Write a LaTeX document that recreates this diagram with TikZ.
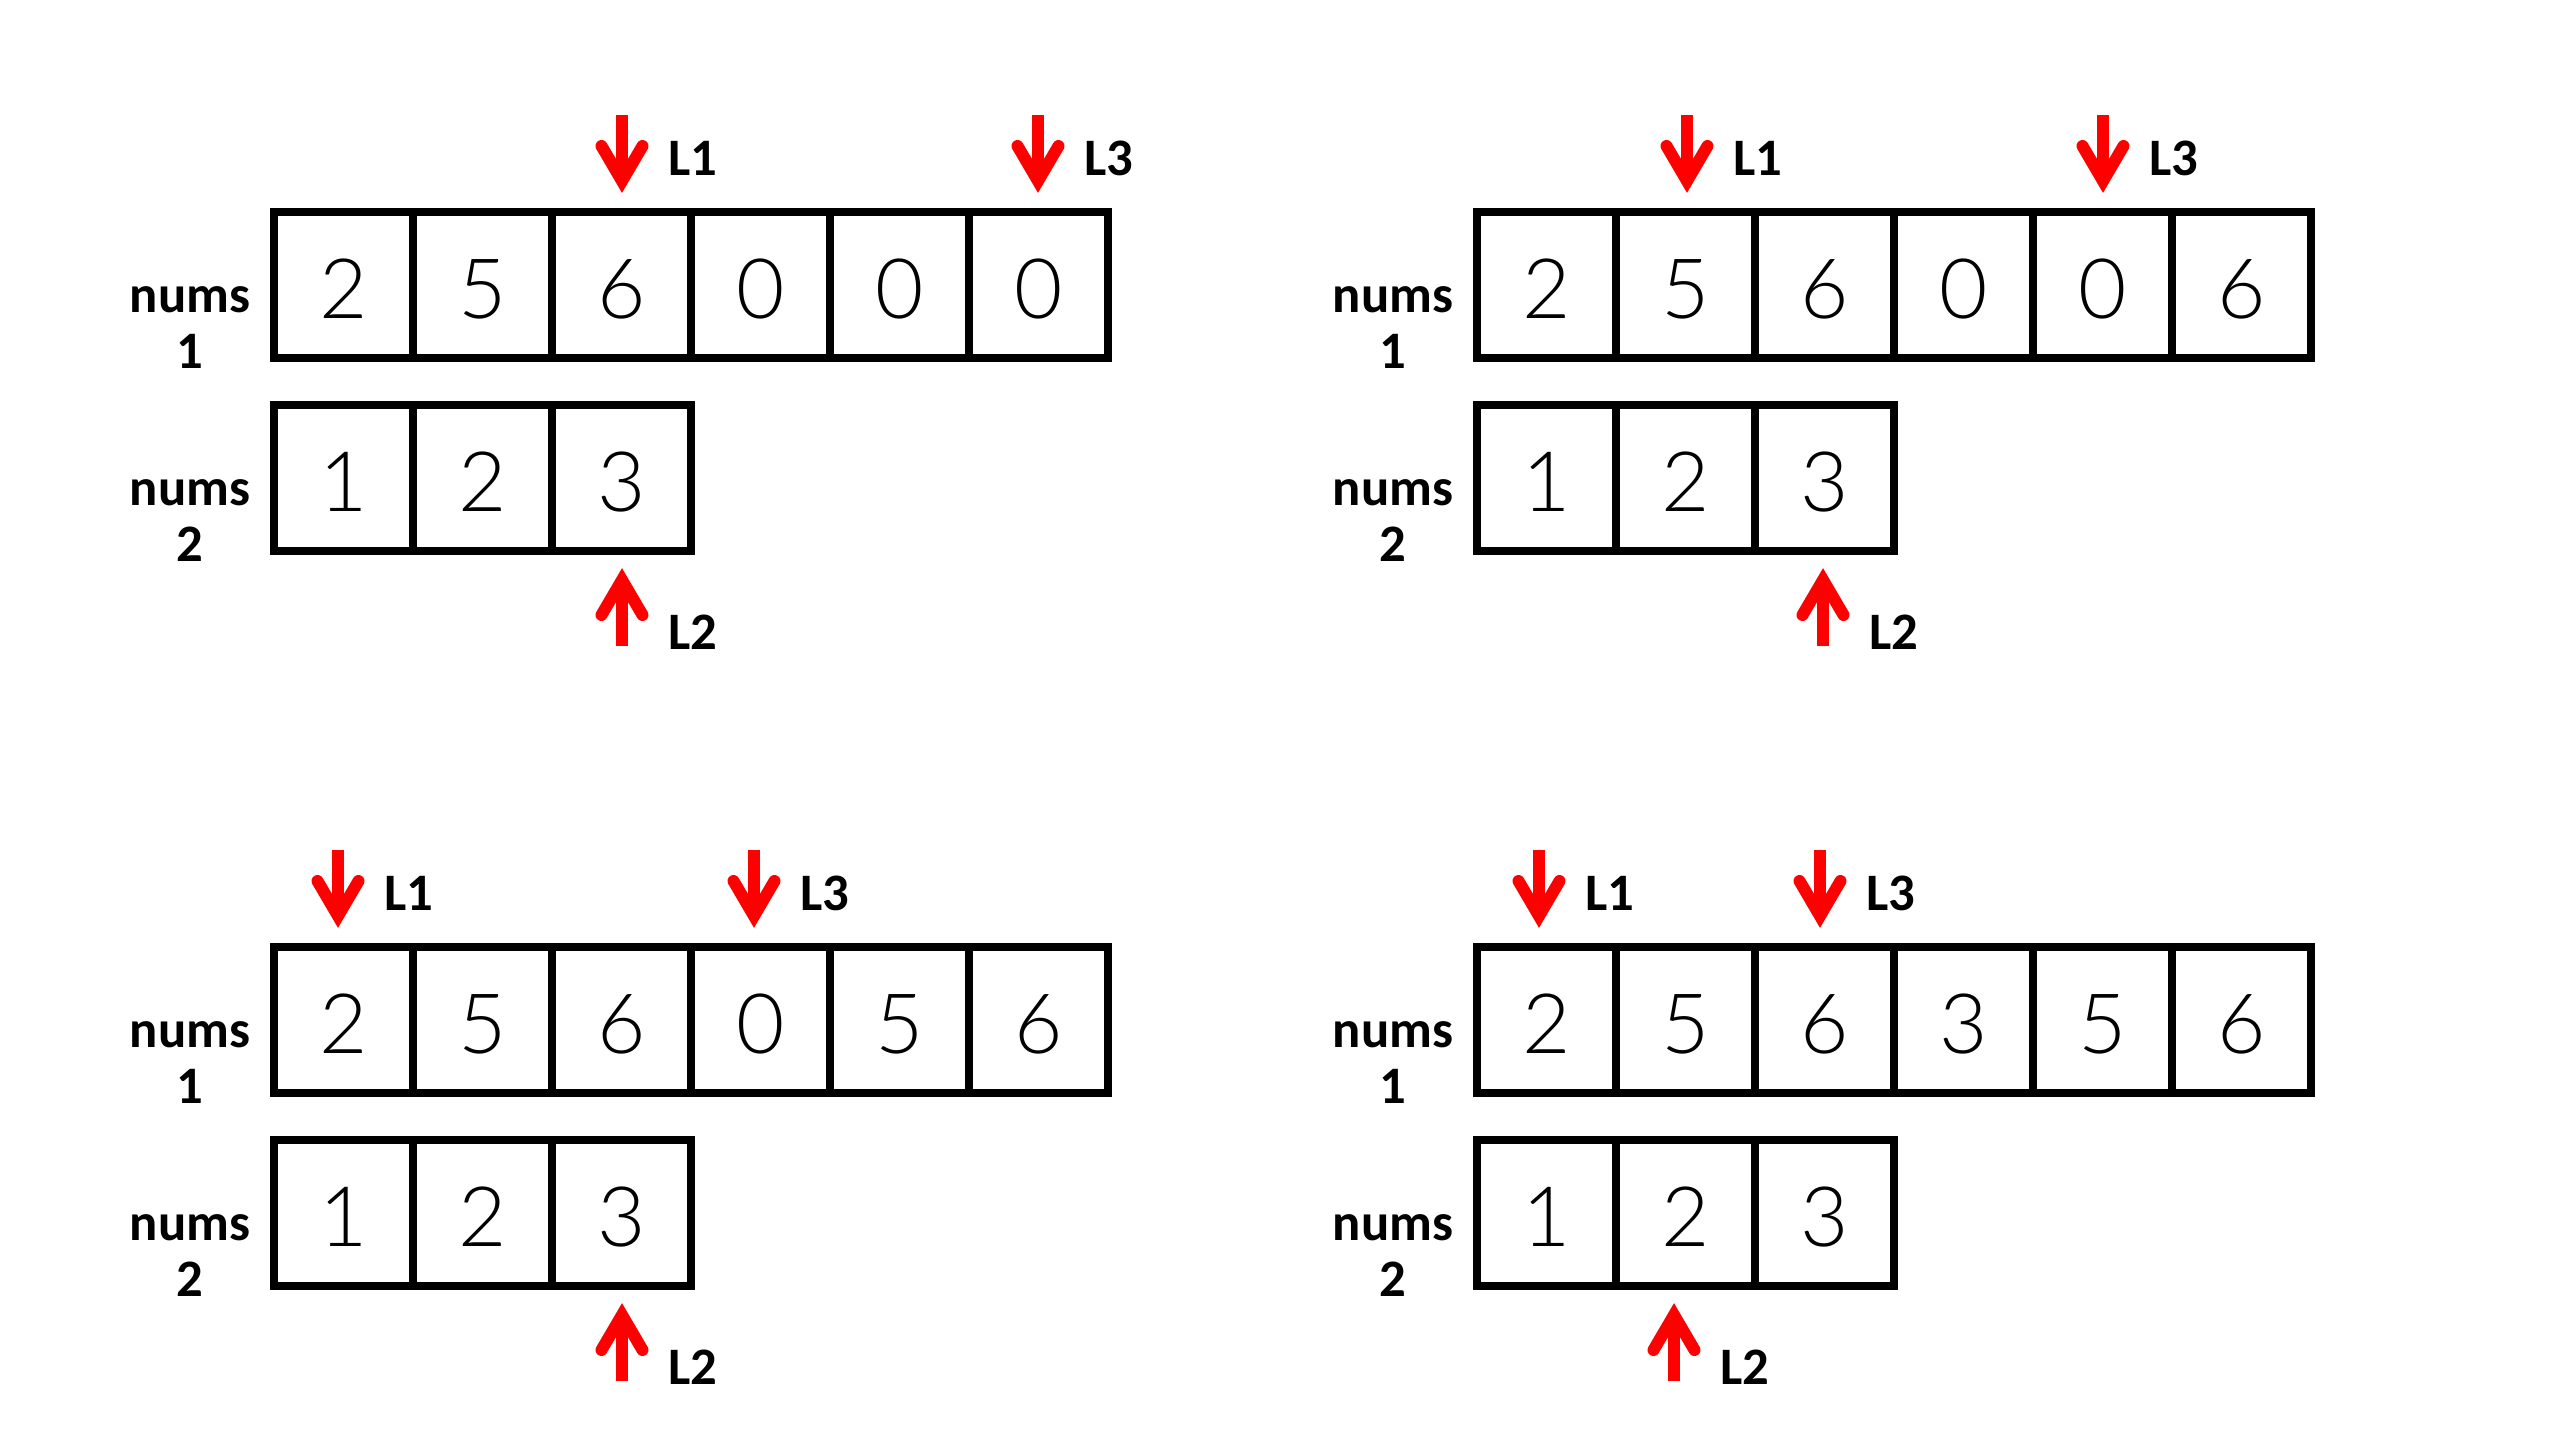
\documentclass[tikz,border=0pt]{standalone}
\usepackage{fontspec}
\usetikzlibrary{calc}
\newfontfamily\digitfont{Lato Light}
\newfontfamily\lblfont{Carlito}
\tikzset{
  cell/.style={draw, line width=2.4pt, minimum width=41.7pt, minimum height=43.8pt,
    inner sep=0pt, font=\digitfont\fontsize{25}{30}\selectfont, text height=19.8pt, text depth=0pt},
  lbl/.style={font=\lblfont\bfseries\fontsize{15.8}{18}\selectfont, anchor=base, inner sep=0pt},
  ptrlbl/.style={lbl, anchor=base west},
  shaftline/.style={draw=red, line width=3.6pt},
  headline/.style={draw=red, line width=3.6pt, line cap=round, line join=miter},
}
% panel: id, x0 (left), y0 (top of nums1), nums1 values, nums2 values
\newcommand\mypanel[5]{%
  \foreach \v [count=\i from 0] in {#4}
    \node[cell] (#1a\i) at ({#2+139*\i+69.5},{#3+73}) {\v};
  \foreach \v [count=\i from 0] in {#5}
    \node[cell] (#1b\i) at ({#2+139*\i+69.5},{#3+266}) {\v};
  \node[lbl] (#1n1) at ({#2-84},{#3+100}) {nums};
  \node[lbl] (#1k1) at ({#2-84},{#3+156}) {1};
  \node[lbl] (#1n2) at ({#2-84},{#3+293}) {nums};
  \node[lbl] (#1k2) at ({#2-84},{#3+349}) {2};
}
% down pointer: name, x, tip y, label
\newcommand\dptr[4]{%
  \coordinate (#1) at (#2,#3);
  \coordinate (#1s) at (#2,{#3-78});
  \draw[shaftline] (#1s) -- ($(#1)+(0,-20)$);
  \draw[headline] ($(#1)+(-20.5,-47)$) -- ($(#1)+(0,-12)$) -- ($(#1)+(20.5,-47)$);
  \node[ptrlbl] (#1l) at ({#2+46},{#3-18}) {#4};
}
% up pointer
\newcommand\uptr[4]{%
  \coordinate (#1) at (#2,#3);
  \coordinate (#1s) at (#2,{#3+78});
  \draw[shaftline] (#1s) -- ($(#1)+(0,20)$);
  \draw[headline] ($(#1)+(-20.5,47)$) -- ($(#1)+(0,12)$) -- ($(#1)+(20.5,47)$);
  \node[ptrlbl] (#1l) at ({#2+46},{#3+81}) {#4};
}
\begin{document}
\begin{tikzpicture}[x=0.3pt, y=-0.3pt]
  \useasboundingbox[fill=white] (0,0) rectangle (2559,1440);
  \mypanel{A}{274}{212}{2,5,6,0,0,0}{1,2,3}
  \mypanel{B}{1477}{212}{2,5,6,0,0,6}{1,2,3}
  \mypanel{C}{274}{947}{2,5,6,0,5,6}{1,2,3}
  \mypanel{D}{1477}{947}{2,5,6,3,5,6}{1,2,3}
  \dptr{AL1}{622}{193}{L1}
  \dptr{AL3}{1038}{193}{L3}
  \uptr{AL2}{622}{568}{L2}
  \dptr{BL1}{1687}{193}{L1}
  \dptr{BL3}{2103}{193}{L3}
  \uptr{BL2}{1823}{568}{L2}
  \dptr{CL1}{338}{928}{L1}
  \dptr{CL3}{754}{928}{L3}
  \uptr{CL2}{622}{1303}{L2}
  \dptr{DL1}{1539}{928}{L1}
  \dptr{DL3}{1820}{928}{L3}
  \uptr{DL2}{1674}{1303}{L2}
\end{tikzpicture}
\end{document}
